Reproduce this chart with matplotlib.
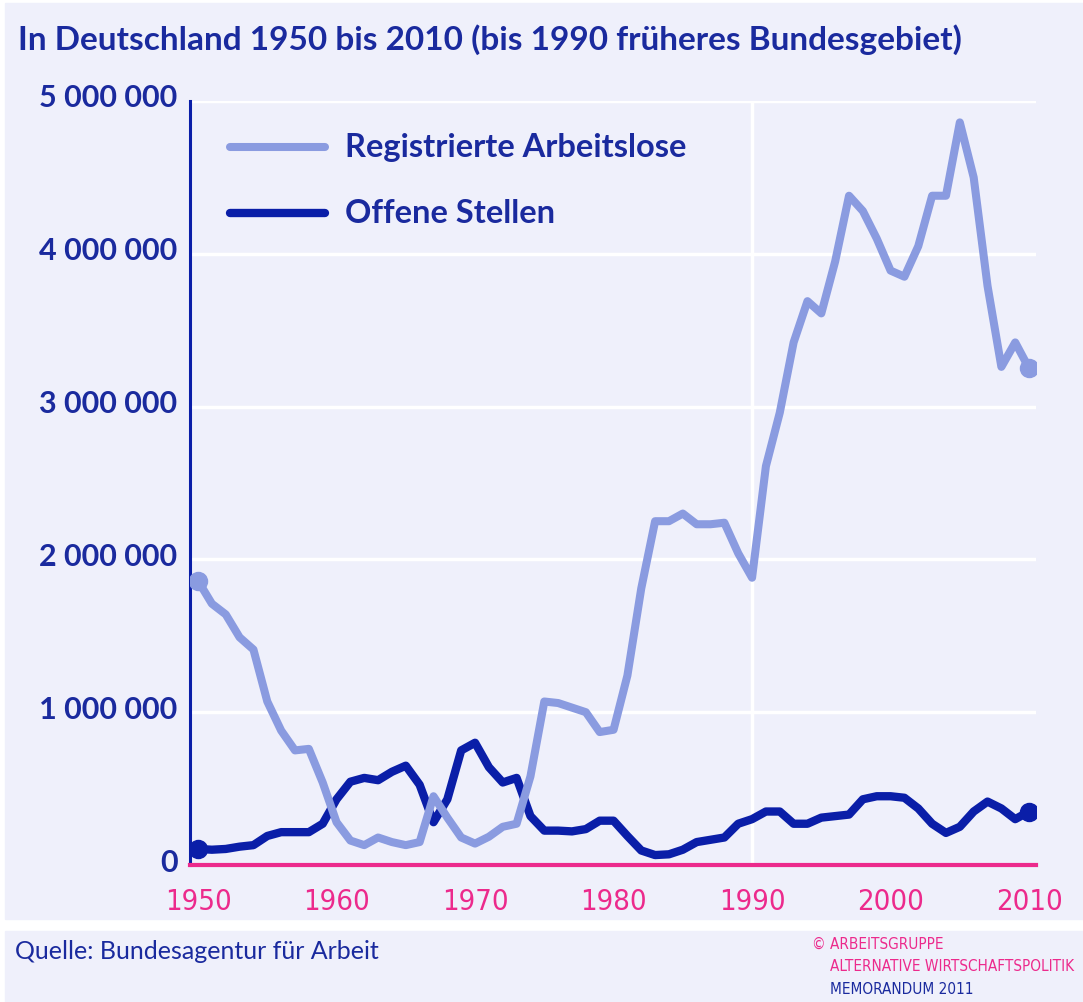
import matplotlib.pyplot as plt
import matplotlib.transforms as mtransforms
from matplotlib import font_manager
from matplotlib.patches import Rectangle
import numpy as np

# Daten, Werte in Millionen
jahre = list(range(1950, 2011))
arbeitslose = [
    1.86, 1.71, 1.64, 1.49, 1.41, 1.07, 0.88, 0.75, 0.76, 0.54,
    0.28, 0.16, 0.13, 0.18, 0.15, 0.13, 0.15, 0.45, 0.31, 0.18,
    0.14, 0.185, 0.25, 0.27, 0.58, 1.07, 1.06, 1.03, 1.00, 0.87,
    0.885, 1.24, 1.81, 2.25, 2.25, 2.30, 2.23, 2.23, 2.24, 2.04,
    1.88, 2.61, 2.96, 3.42, 3.69, 3.61, 3.95, 4.38, 4.28, 4.10,
    3.89, 3.85, 4.05, 4.38, 4.38, 4.86, 4.50, 3.79, 3.26, 3.42,
    3.25,
]
offene_stellen = [
    0.105, 0.10, 0.105, 0.12, 0.13, 0.19, 0.215, 0.215, 0.215, 0.27,
    0.43, 0.545, 0.57, 0.555, 0.61, 0.65, 0.525, 0.28, 0.43, 0.75,
    0.80, 0.64, 0.54, 0.57, 0.32, 0.225, 0.225, 0.22, 0.235, 0.29,
    0.29, 0.19, 0.095, 0.065, 0.07, 0.10, 0.15, 0.165, 0.18, 0.27,
    0.30, 0.35, 0.35, 0.27, 0.27, 0.31, 0.32, 0.33, 0.43, 0.45,
    0.45, 0.44, 0.37, 0.27, 0.21, 0.25, 0.35, 0.415, 0.37, 0.30,
    0.35,
]
y_ticks = [0, 1e6, 2e6, 3e6, 4e6, 5e6]
y_labels = ["0", "1 000 000", "2 000 000", "3 000 000", "4 000 000", "5 000 000"]
x_ticks = [1950, 1960, 1970, 1980, 1990, 2000, 2010]

HELL = "#8a9be0"
DUNKEL = "#0a1ea8"
TEXTBLAU = "#1a2a9e"
PINK = "#ec2a8c"
BG = "#eff0fb"
HAUPT = ["Lato", "DejaVu Sans"]

# schmale Schrift suchen, falls vorhanden
namen = {f.name for f in font_manager.fontManager.ttflist}
schmal_dejavu = any(f.name == "DejaVu Sans" and f.stretch == "condensed"
                    for f in font_manager.fontManager.ttflist)
if "Liberation Sans Narrow" in namen:
    SCHMAL = dict(family=["Liberation Sans Narrow", "DejaVu Sans"])
elif schmal_dejavu:
    SCHMAL = dict(family=["DejaVu Sans"], fontstretch="condensed")
else:
    SCHMAL = dict(family=["Roboto", "DejaVu Sans"], fontstretch="condensed")

W, H = 1083, 1003
fig = plt.figure(figsize=(W / 100, H / 100), dpi=100)
fig.patch.set_facecolor("white")

# Hintergrundflächen
fig.add_artist(Rectangle((5 / W, 1 - 920 / H), 1, (920 - 4) / H,
                         transform=fig.transFigure, color=BG, zorder=0))
fig.add_artist(Rectangle((5 / W, 0), 1, (1003 - 932) / H,
                         transform=fig.transFigure, color=BG, zorder=0))

ax = fig.add_axes([190 / W, 1 - 866 / H, (1036 - 190) / W, (866 - 102) / H])
ax.set_facecolor(BG)

a = np.array(arbeitslose) * 1e6
o = np.array(offene_stellen) * 1e6

ax.plot(jahre, o, color=DUNKEL, lw=6, solid_joinstyle="round", zorder=3,
        label="Offene Stellen")
ax.plot(jahre, a, color=HELL, lw=5.8, solid_joinstyle="round", zorder=4,
        label="Registrierte Arbeitslose")
ax.plot([jahre[0], jahre[-1]], [o[0], o[-1]], "o", color=DUNKEL, ms=13, zorder=3)
ax.plot([jahre[0], jahre[-1]], [a[0], a[-1]], "o", color=HELL, ms=13, zorder=4)

ax.set_xlim(1949.42, 2010.5)
ax.set_ylim(0, 5e6)

for yv in y_ticks[1:]:
    ax.axhline(yv, color="white", lw=2.5, zorder=1)
ax.axvline(1990, color="white", lw=2.5, zorder=1)

for s in ["top", "right"]:
    ax.spines[s].set_visible(False)
ax.spines["left"].set_color(DUNKEL)
ax.spines["left"].set_linewidth(2.2)
ax.spines["bottom"].set_color(PINK)
ax.spines["bottom"].set_linewidth(3)

ax.set_yticks(y_ticks)
ax.set_yticklabels(y_labels, fontsize=22, fontweight="bold", color=TEXTBLAU,
                   family=HAUPT)
ax.set_xticks(x_ticks)
ax.set_xticklabels([str(x) for x in x_ticks], fontsize=21, color=PINK, **SCHMAL)
ax.tick_params(axis="both", length=0)
ax.tick_params(axis="y", pad=9)
ax.tick_params(axis="x", pad=16)
off = mtransforms.ScaledTranslation(0, 6 / 100, fig.dpi_scale_trans)
for lbl in ax.get_yticklabels():
    lbl.set_transform(lbl.get_transform() + off)

# Legende
ax.plot([1952.3, 1959.2], [4.70e6, 4.70e6], color=HELL, lw=5.8,
        solid_capstyle="round", zorder=5)
ax.plot([1952.3, 1959.2], [4.27e6, 4.27e6], color=DUNKEL, lw=6,
        solid_capstyle="round", zorder=5)
ax.text(1960.6, 4.70e6, "Registrierte Arbeitslose", fontsize=23.5, color=TEXTBLAU,
        fontweight="bold", va="center", family=HAUPT)
ax.text(1960.6, 4.27e6, "Offene Stellen", fontsize=23.5, color=TEXTBLAU,
        fontweight="bold", va="center", family=HAUPT)

fig.text(18 / W, 1 - 40 / H,
         "In Deutschland 1950 bis 2010 (bis 1990 früheres Bundesgebiet)",
         fontsize=24, fontweight="bold", color=TEXTBLAU, va="center",
         family=HAUPT)

fig.text(15 / W, 1 - 952 / H, "Quelle: Bundesagentur für Arbeit", fontsize=18,
         color=TEXTBLAU, va="center", family=HAUPT)
fig.text(812 / W, 1 - 944 / H, "© ARBEITSGRUPPE", fontsize=11, color=PINK,
         va="center", **SCHMAL)
fig.text(830 / W, 1 - 967 / H, "ALTERNATIVE WIRTSCHAFTSPOLITIK", fontsize=11,
         color=PINK, va="center", **SCHMAL)
fig.text(830 / W, 1 - 990 / H, "MEMORANDUM 2011", fontsize=11, color=TEXTBLAU,
         va="center", **SCHMAL)

fig.savefig("out.png", dpi=100)
